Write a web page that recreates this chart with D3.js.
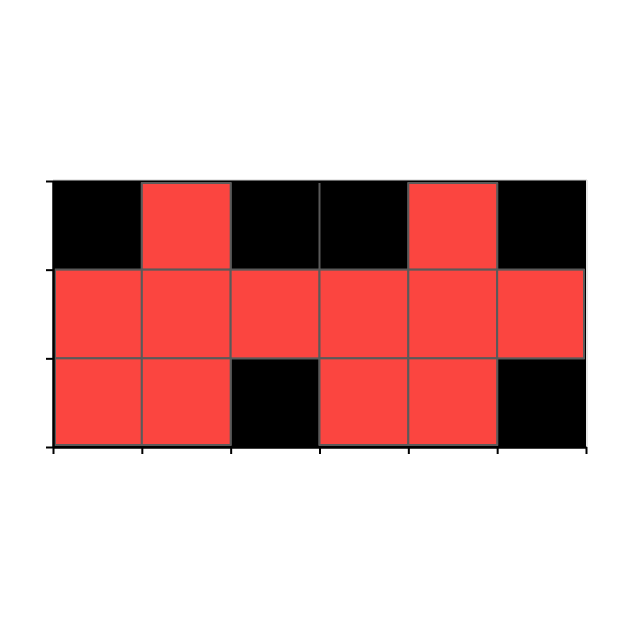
<!DOCTYPE html>
<html><head><meta charset="utf-8">
<script src="https://cdn.jsdelivr.net/npm/d3@7"></script>
<style>html,body{margin:0;padding:0;background:#fff;}svg{display:block;}</style>
</head><body>
<svg id="c" width="629" height="629"></svg>
<script>
// Columns and rows of the grid (row 0 = top)
const columns = [0, 1, 2, 3, 4, 5];
const rows = [0, 1, 2];
// Cell values: 1 = red (on), 0 = black (off)
const row0 = [0, 1, 0, 0, 1, 0];
const row1 = [1, 1, 1, 1, 1, 1];
const row2 = [1, 1, 0, 1, 1, 0];
const values = [row0, row1, row2];
const xTicks = [0, 1, 2, 3, 4, 5, 6];
const yTicks = [0, 1, 2, 3];

const svg = d3.select("#c");
const L = 53, R = 586, T = 181, B = 447;
const x = d3.scaleLinear().domain([0, 6]).range([L, R]);
const y = d3.scaleLinear().domain([0, 3]).range([T, B]);
const red = "#fb4540", grid = "#5a5a5a";

// plot background (black)
svg.append("rect").attr("x", L).attr("y", T - 1).attr("width", R - L).attr("height", B - T + 1).attr("fill", "#000");

const inset = 2;
const cells = [];
rows.forEach(r => columns.forEach(c => cells.push({r, c, v: values[r][c]})));
function cx0(c){ return Math.max(x(c), x(0) + inset); }
function cx1(c){ return Math.min(x(c + 1), x(6) - inset); }
function cy0(r){ return Math.max(y(r), y(0) + inset); }
function cy1(r){ return Math.min(y(r + 1), y(3) - inset); }

// interior grid lines between cells
const g = svg.append("g");
xTicks.slice(1, -1).forEach(t => g.append("line")
  .attr("x1", x(t)).attr("x2", x(t)).attr("y1", y(0) + inset).attr("y2", y(3) - inset)
  .attr("stroke", grid).attr("stroke-width", 2));
yTicks.slice(1, -1).forEach(t => g.append("line")
  .attr("y1", y(t)).attr("y2", y(t)).attr("x1", x(0) + inset).attr("x2", x(6) - inset)
  .attr("stroke", grid).attr("stroke-width", 2));

svg.append("g").selectAll("rect").data(cells.filter(d => d.v === 1)).join("rect")
  .attr("x", d => cx0(d.c)).attr("y", d => cy0(d.r))
  .attr("width", d => cx1(d.c) - cx0(d.c)).attr("height", d => cy1(d.r) - cy0(d.r))
  .attr("fill", red).attr("stroke", grid).attr("stroke-width", 2);

// light top/right frame
svg.append("line").attr("x1", L).attr("x2", R + 1).attr("y1", T - 1).attr("y2", T - 1).attr("stroke", "#cfcfcf").attr("stroke-width", 1);
svg.append("line").attr("x1", R + 1).attr("x2", R + 1).attr("y1", T - 1).attr("y2", B).attr("stroke", "#cfcfcf").attr("stroke-width", 1);

// axes
const xAxis = d3.axisBottom(x).tickValues(xTicks).tickFormat("").tickSize(7).tickSizeOuter(0);
const yAxis = d3.axisLeft(y).tickValues(yTicks).tickFormat("").tickSize(7).tickSizeOuter(0);
const gx = svg.append("g").attr("transform", `translate(0,${B})`).call(xAxis);
const gy = svg.append("g").attr("transform", `translate(${L},0)`).call(yAxis);
[gx, gy].forEach(a => {
  a.select(".domain").attr("stroke", "#000").attr("stroke-width", 2.5);
  a.selectAll(".tick line").attr("stroke", "#000").attr("stroke-width", 2);
});
</script>
</body></html>
